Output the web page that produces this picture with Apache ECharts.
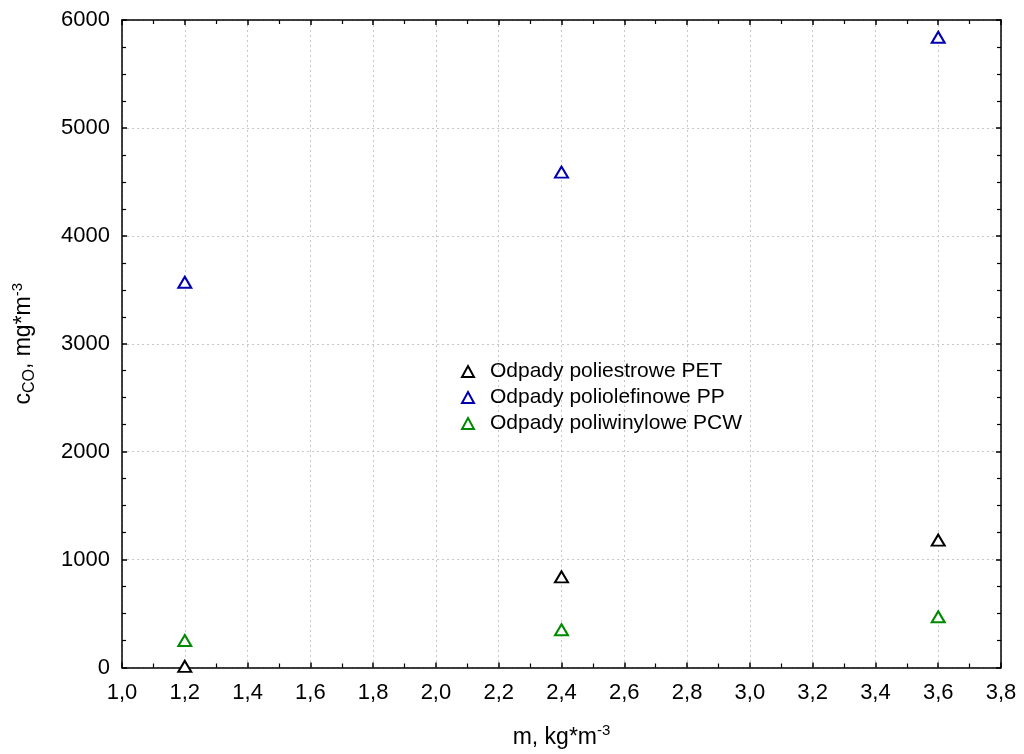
<!DOCTYPE html>
<html>
<head>
<meta charset="utf-8">
<script src="https://cdn.jsdelivr.net/npm/echarts@6/dist/echarts.min.js"></script>
<style>
  html, body { margin: 0; padding: 0; background: #fff; }
  #main { width: 1024px; height: 754px; }
</style>
</head>
<body>
<div id="main"></div>
<script>
  // dane z wykresu
  var xValues = [1.2, 2.4, 3.6];
  var petValues = [10, 840, 1180];
  var ppValues = [3570, 4590, 5840];
  var pcwValues = [250, 350, 470];
  var seriesNames = ['Odpady poliestrowe PET', 'Odpady poliolefinowe PP', 'Odpady poliwinylowe PCW'];
  var seriesColors = ['#000000', '#0000b0', '#008a00'];

  var FONT = 'Liberation Sans, Arial, sans-serif';

  function pairs(ys) {
    var out = [];
    for (var i = 0; i < xValues.length; i++) {
      out.push([xValues[i], ys[i]]);
    }
    return out;
  }

  function scatter(name, ys, color) {
    return {
      name: name,
      type: 'scatter',
      symbol: 'triangle',
      symbolSize: [13, 11],
      data: pairs(ys),
      itemStyle: {
        color: '#ffffff',
        borderColor: color,
        borderWidth: 2,
        opacity: 1
      },
      emphasis: { disabled: true }
    };
  }

  var axisLine = { show: true, onZero: false, lineStyle: { color: '#000', width: 1.5 } };

  var myChart = echarts.init(document.getElementById('main'));

  var option = {
    animation: false,
    backgroundColor: '#fff',
    grid: { left: 122, right: 23, top: 20, bottom: 85 },
    legend: {
      orient: 'vertical',
      left: 456,
      top: 356,
      itemWidth: 12,
      itemHeight: 11,
      itemGap: 5,
      icon: 'triangle',
      data: seriesNames,
      textStyle: { fontFamily: FONT, fontSize: 21, color: '#000', padding: [0, 0, 0, 11] }
    },
    xAxis: [{
      type: 'value',
      min: 1.0,
      max: 3.8,
      interval: 0.2,
      name: 'm, kg*m{sup|-3}',
      nameLocation: 'middle',
      nameGap: 56,
      nameTextStyle: {
        fontFamily: FONT, fontSize: 23, color: '#000',
        rich: { sup: { fontFamily: FONT, fontSize: 15, verticalAlign: 'top', padding: [0, 0, 13, 0] } }
      },
      axisLine: axisLine,
      axisTick: { show: true, inside: true, length: 5, lineStyle: { color: '#000', width: 1.5 } },
      minorTick: { show: true, splitNumber: 2, length: 4, lineStyle: { color: '#000', width: 1.2 } },
      axisLabel: {
        fontFamily: FONT, fontSize: 22, color: '#000', margin: 14,
        formatter: function(v) { return v.toFixed(1).replace('.', ','); }
      },
      splitLine: { show: true, lineStyle: { color: '#c8c8c8', type: [2, 3], width: 1 } }
    }, {
      type: 'value',
      position: 'top',
      min: 1.0,
      max: 3.8,
      interval: 0.2,
      axisLine: axisLine,
      axisTick: { show: true, inside: true, length: 5, lineStyle: { color: '#000', width: 1.5 } },
      minorTick: { show: true, splitNumber: 2, length: 4, lineStyle: { color: '#000', width: 1.2 } },
      axisLabel: { show: false },
      splitLine: { show: false }
    }],
    yAxis: [{
      type: 'value',
      min: 0,
      max: 6000,
      interval: 1000,
      name: 'c{sub|CO}, mg*m{sup|-3}',
      nameLocation: 'middle',
      nameRotate: 90,
      nameGap: 84,
      nameTextStyle: {
        fontFamily: FONT, fontSize: 23, color: '#000',
        rich: {
          sub: { fontFamily: FONT, fontSize: 16, verticalAlign: 'bottom', padding: [11, 0, 0, 0] },
          sup: { fontFamily: FONT, fontSize: 15, verticalAlign: 'top', padding: [0, 0, 13, 0] }
        }
      },
      axisLine: axisLine,
      axisTick: { show: true, inside: true, length: 5, lineStyle: { color: '#000', width: 1.5 } },
      minorTick: { show: true, splitNumber: 4, length: 4, lineStyle: { color: '#000', width: 1.2 } },
      axisLabel: {
        fontFamily: FONT, fontSize: 22, color: '#000', margin: 12,
        formatter: function(v) { return String(v); }
      },
      splitLine: { show: true, lineStyle: { color: '#c8c8c8', type: [2, 3], width: 1 } }
    }, {
      type: 'value',
      position: 'right',
      min: 0,
      max: 6000,
      interval: 1000,
      axisLine: axisLine,
      axisTick: { show: true, inside: true, length: 5, lineStyle: { color: '#000', width: 1.5 } },
      minorTick: { show: true, splitNumber: 4, length: 4, lineStyle: { color: '#000', width: 1.2 } },
      axisLabel: { show: false },
      splitLine: { show: false }
    }],
    series: [
      scatter(seriesNames[0], petValues, seriesColors[0]),
      scatter(seriesNames[1], ppValues, seriesColors[1]),
      scatter(seriesNames[2], pcwValues, seriesColors[2])
    ]
  };

  myChart.setOption(option);
</script>
</body>
</html>
